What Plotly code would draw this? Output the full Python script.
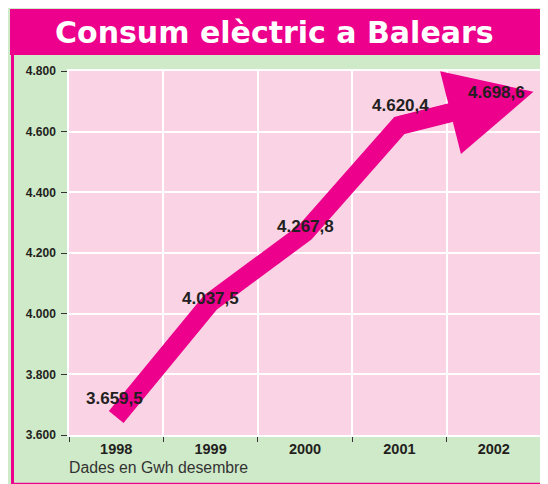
import plotly.graph_objects as go

# ---- data ----
years = ["1998", "1999", "2000", "2001", "2002"]
consum = [3659.5, 4037.5, 4267.8, 4620.4, 4698.6]
labels = ["3.659,5", "4.037,5", "4.267,8", "4.620,4", "4.698,6"]
y_ticks = [3600, 3800, 4000, 4200, 4400, 4600, 4800]

# ---- style ----
OFF = 8  # page body margin: figure is drawn 8px in from the window corner
W, H = 548 - OFF, 484 - OFF
ML, MT = 69 - OFF, 71 - OFF
MR = W - (541 - OFF)
MB = H - (435 - OFF)
MAGENTA = "#EC008C"
PINK = "#FAD3E5"
GREEN = "#CFEAC8"
DARK = "#231F20"
BOLDFONT = "Liberation Sans, Arial, sans-serif"

label_dy = [18, 4, 6, 20, 9.5]
label_dx = [-2, 0, 0, 1, 2.5]
arrow_ext = 0.42  # how far the arrow runs past the last year (in steps)

pw, ph = W - ML - MR, H - MT - MB


def px(x):  # screen pixel -> paper
    return (x - OFF - ML) / pw


def py(y):
    return (H - MB - (y - OFF)) / ph


fig = go.Figure()
fig.add_trace(go.Scatter(
    x=years, y=consum, mode="lines",
    line=dict(color=MAGENTA, width=19),
    hoverinfo="skip", showlegend=False,
))

n = len(consum)
tip_x = (n - 1) + arrow_ext
tip_y = consum[-1] + arrow_ext * (consum[-1] - consum[-2])

annotations = [
    dict(x=tip_x, y=tip_y, xref="x", yref="y",
         ax=n - 2, ay=consum[-2], axref="x", ayref="y",
         text="", showarrow=True, arrowhead=2, arrowsize=0.95,
         arrowwidth=18, arrowcolor=MAGENTA, standoff=0),
]
for i, (yr, v, t) in enumerate(zip(years, consum, labels)):
    annotations.append(dict(
        x=i, y=v, xref="x", yref="y", text=t, showarrow=False,
        xanchor="center", yanchor="middle",
        yshift=label_dy[i], xshift=label_dx[i],
        font=dict(family=BOLDFONT, size=17, color=DARK, weight="bold"),
    ))
annotations.append(dict(
    x=px(274), y=py(33), xref="paper", yref="paper",
    xanchor="center", yanchor="middle",
    text="Consum elèctric a Balears", showarrow=False,
    font=dict(family="DejaVu Sans", size=30, color="white", weight="bold"),
))
annotations.append(dict(
    x=px(67), y=py(468), xref="paper", yref="paper",
    xanchor="left", yanchor="middle",
    text="Dades en Gwh desembre", showarrow=False,
    font=dict(family="Liberation Sans, Arial, sans-serif", size=15.8, color="#333333"),
))

shapes = [
    dict(type="rect", xref="paper", yref="paper",
         x0=px(10), x1=px(560), y0=py(55), y1=py(9),
         fillcolor=MAGENTA, line=dict(width=0), layer="above"),
    dict(type="line", xref="paper", yref="paper",
         x0=px(12.5), x1=px(12.5), y0=py(55), y1=py(490),
         line=dict(color=MAGENTA, width=3)),
    dict(type="line", xref="paper", yref="paper",
         x0=px(11), x1=px(560), y0=py(483.5), y1=py(483.5),
         line=dict(color=MAGENTA, width=1.5)),
]

fig.update_layout(
    width=W, height=H,
    margin=dict(l=ML, r=MR, t=MT, b=MB, autoexpand=False),
    paper_bgcolor=GREEN, plot_bgcolor=PINK,
    separators=",.",
    showlegend=False,
    annotations=annotations, shapes=shapes,
    xaxis=dict(
        type="category", tickson="boundaries", range=[-0.5, n - 0.5],
        showgrid=True, gridcolor="white", gridwidth=1.5,
        ticks="outside", ticklen=5, tickcolor="#333333", tickwidth=1,
        showline=True, linecolor="white", linewidth=1.5, mirror=True,
        ticklabelstandoff=0,
        tickfont=dict(family=BOLDFONT, size=14.5, color=DARK, weight="bold"),
        fixedrange=True,
    ),
    yaxis=dict(
        range=[y_ticks[0], y_ticks[-1]], tickvals=y_ticks, tickformat=",d",
        showgrid=True, gridcolor="white", gridwidth=1.5, zeroline=False,
        ticks="outside", ticklen=6, tickcolor="#333333", tickwidth=1,
        showline=True, linecolor="white", linewidth=1.5, mirror=True,
        ticklabelstandoff=3,
        tickfont=dict(family=BOLDFONT, size=12, color=DARK, weight="bold"),
        fixedrange=True,
    ),
)

fig.write_html("out.html")
